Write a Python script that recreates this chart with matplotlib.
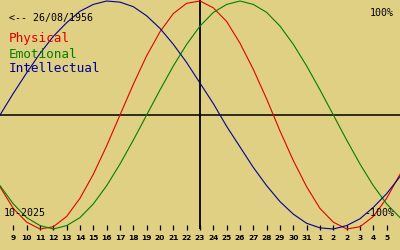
import matplotlib
matplotlib.use("Agg")
import matplotlib.pyplot as plt

# day offsets from the centre date (23 Oct 2025)
days = list(range(-15, 16))
physical = [-0.63, -0.82, -0.94, -1.00, -0.98, -0.89, -0.73, -0.52, -0.27, 0.00,
            0.27, 0.52, 0.73, 0.89, 0.98, 1.00, 0.94, 0.82, 0.63, 0.40, 0.14,
            -0.14, -0.40, -0.63, -0.82, -0.94, -1.00, -0.98, -0.89, -0.73, -0.52]
emotional = [-0.62, -0.78, -0.90, -0.97, -1.00, -0.97, -0.90, -0.78, -0.62, -0.43,
             -0.22, 0.00, 0.22, 0.43, 0.62, 0.78, 0.90, 0.97, 1.00, 0.97, 0.90,
             0.78, 0.62, 0.43, 0.22, 0.00, -0.22, -0.43, -0.62, -0.78, -0.90]
intellectual = [0.00, 0.19, 0.37, 0.54, 0.69, 0.81, 0.91, 0.97, 1.00, 0.99, 0.95,
                0.87, 0.76, 0.62, 0.46, 0.28, 0.10, -0.10, -0.28, -0.46, -0.62,
                -0.76, -0.87, -0.95, -0.99, -1.00, -0.97, -0.91, -0.81, -0.69, -0.54]
tick_days = list(range(-14, 15))
tick_labels = ["9", "10", "11", "12", "13", "14", "15", "16", "17", "18", "19", "20",
               "21", "22", "23", "24", "25", "26", "27", "28", "29", "30", "31",
               "1", "2", "2", "3", "4", "5"]
birth_label = "<-- 26/08/1956"
month_label = "10-2025"
series_names = ["Physical", "Emotional", "Intellectual"]

BG = "#E0D084"
RED = "#E00000"
GREEN = "#008000"
BLUE = "#000098"

W, H = 400, 250
fig = plt.figure(figsize=(4, 2.5), dpi=100, facecolor=BG)
ax = fig.add_axes([0, 0, 1, 1])
ax.set_facecolor(BG)
# pixel mapping: x 0..400 <-> -15..15 ; value 0 at y=115, 114 px per unit
AMP = 114.0
ax.set_xlim(-15, 15)
ax.set_ylim(-(H - 115) / AMP, 115 / AMP)
ax.axis("off")

# axes lines
ax.axhline(0, color="black", lw=1.1, zorder=3)
ax.plot([0, 0], [115 / AMP, -(229 - 115) / AMP], color="black", lw=1.3, zorder=3,
        solid_capstyle="butt")

# curves
ax.plot(days, physical, color=RED, lw=0.8, zorder=4)
ax.plot(days, emotional, color=GREEN, lw=0.8, zorder=4)
ax.plot(days, intellectual, color=BLUE, lw=0.8, zorder=4)

# ticks
t0 = -(225 - 115) / AMP
t1 = -(229.5 - 115) / AMP
tl = -(240.5 - 115) / AMP
for d, lab in zip(tick_days, tick_labels):
    ax.plot([d, d], [t0, t1], color="black", lw=0.9, solid_capstyle="butt")
    ax.text(d, tl, lab, ha="center", va="baseline", fontsize=5.4,
            fontweight="bold", family="DejaVu Sans", color="black")

def ftext(x, y, s, **kw):
    fig.text(x / W, 1 - y / H, s, va="baseline", **kw)

mono = "DejaVu Sans Mono"
ftext(9, 20.5, birth_label, fontsize=7.2, family=mono, color="black")
ftext(394, 16, "100%", fontsize=7.2, family=mono, color="black", ha="right")
ftext(394, 216, "-100%", fontsize=7.2, family=mono, color="black", ha="right")
ftext(4, 216, month_label, fontsize=7.2, family=mono, color="black")
ftext(9, 42.3, series_names[0], fontsize=9.2, family=mono, color=RED)
ftext(9, 57.5, series_names[1], fontsize=9.2, family=mono, color=GREEN)
ftext(9, 72.5, series_names[2], fontsize=9.2, family=mono, color=BLUE)

fig.savefig("out.png", dpi=100, facecolor=BG)
